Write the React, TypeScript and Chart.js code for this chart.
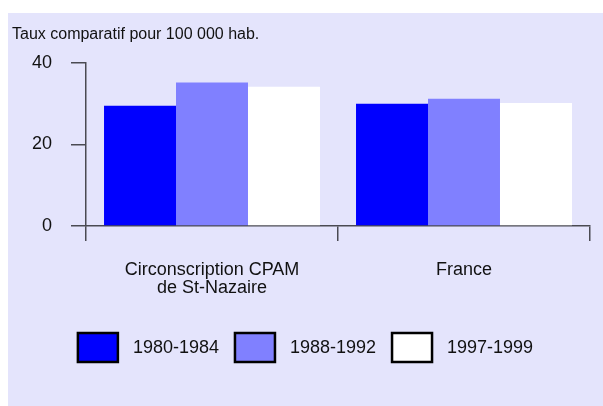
import React, { useEffect, useRef } from "react";
import { Chart, registerables } from "chart.js";

Chart.register(...registerables);

const categories: (string | string[])[] = [["Circonscription CPAM", "de St-Nazaire"], "France"];
const seriesLabels = ["1980-1984", "1988-1992", "1997-1999"];
const values1980 = [29.5, 30.0];
const values1988 = [35.2, 31.2];
const values1997 = [34.2, 30.2];
const yTicks = [0, 20, 40];
const unitLabel = "Taux comparatif pour 100 000 hab.";

const colors = ["#0000FF", "#8080FF", "#FFFFFF"];
const BG = "#E4E4FC";
const AXIS = "#4a4a52";
const FONT = "'Liberation Sans', Arial, sans-serif";

const decorPlugin = {
  id: "decor",
  beforeDraw(chart: any) {
    const ctx = chart.ctx;
    ctx.save();
    ctx.fillStyle = BG;
    ctx.fillRect(0, 0, chart.width, chart.height);
    ctx.restore();
  },
  afterDraw(chart: any) {
    const ctx = chart.ctx;
    ctx.save();
    // unit title
    ctx.fillStyle = "#111";
    ctx.font = `16px ${FONT}`;
    ctx.textBaseline = "alphabetic";
    ctx.textAlign = "left";
    ctx.fillText(unitLabel, 4, 26);
    // legend
    ctx.font = `18px ${FONT}`;
    const boxW = 40, boxH = 29, gap = 15, itemGap = 16;
    const widths = chart.data.datasets.map((d: any) => ctx.measureText(d.label).width);
    const total = widths.reduce((a: number, w: number) => a + boxW + gap + w, 0) + itemGap * (widths.length - 1);
    let x = (chart.width - total) / 2;
    const yTop = 320;
    chart.data.datasets.forEach((d: any, i: number) => {
      ctx.fillStyle = d.backgroundColor;
      ctx.fillRect(x, yTop, boxW, boxH);
      ctx.strokeStyle = "#000";
      ctx.lineWidth = 2.5;
      ctx.strokeRect(x, yTop, boxW, boxH);
      ctx.fillStyle = "#111";
      ctx.textBaseline = "middle";
      ctx.fillText(d.label, x + boxW + gap, yTop + boxH / 2 + 1);
      x += boxW + gap + widths[i] + itemGap;
    });
    ctx.restore();
  },
};

export default function App() {
  const ref = useRef<HTMLCanvasElement>(null);
  useEffect(() => {
    if (!ref.current) return;
    const chart = new Chart(ref.current, {
      type: "bar",
      data: {
        labels: categories,
        datasets: [
          { label: seriesLabels[0], data: values1980, backgroundColor: colors[0] },
          { label: seriesLabels[1], data: values1988, backgroundColor: colors[1] },
          { label: seriesLabels[2], data: values1997, backgroundColor: colors[2] },
        ],
      },
      options: {
        animation: false,
        responsive: true,
        maintainAspectRatio: false,
        devicePixelRatio: 1,
        layout: { padding: { top: 50, right: 13, bottom: 0, left: 0 } },
        datasets: { bar: { categoryPercentage: 0.857, barPercentage: 1, borderWidth: 0 } },
        plugins: { legend: { display: false }, title: { display: false }, tooltip: { enabled: false } },
        scales: {
          x: {
            grid: { offset: true, drawOnChartArea: false, drawTicks: true, tickLength: 15, color: AXIS, lineWidth: 1.5 },
            border: { display: true, color: AXIS, width: 1.5 },
            ticks: { color: "#111", font: { family: FONT, size: 18, lineHeight: 1.0 }, padding: 20, maxRotation: 0, autoSkip: false },
            afterFit: (s: any) => { s.height = 180; },
          },
          y: {
            min: 0,
            max: 40,
            afterBuildTicks: (s: any) => { s.ticks = yTicks.map((v) => ({ value: v })); },
            grid: { drawOnChartArea: false, drawTicks: true, tickLength: 15, color: AXIS, lineWidth: 1.5 },
            border: { display: true, color: AXIS, width: 1.5 },
            ticks: { color: "#111", font: { family: FONT, size: 18 }, padding: 19 },
            afterFit: (s: any) => { s.width = 78; },
          },
        },
      },
      plugins: [decorPlugin],
    });
    return () => chart.destroy();
  }, []);
  return (
    <div style={{ position: "fixed", left: 8, top: 13, width: 595, height: 393 }}>
      <canvas ref={ref} />
    </div>
  );
}
